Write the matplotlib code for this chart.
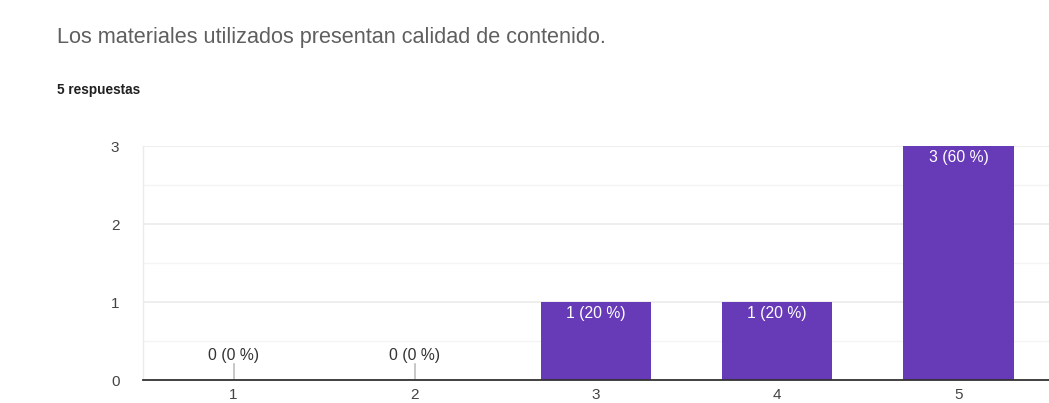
import matplotlib.pyplot as plt
from matplotlib.ticker import MultipleLocator

plt.rcParams['font.family'] = ['Liberation Sans', 'DejaVu Sans']

categories = ['1', '2', '3', '4', '5']
counts = [0, 0, 1, 1, 3]
total = 5
title = 'Los materiales utilizados presentan calidad de contenido.'
subtitle = '5 respuestas'

purple = '#673ab7'

fig = plt.figure(figsize=(10.49, 4.03), dpi=100)
ax = fig.add_axes([143 / 1049, (403 - 380) / 403, (1049 - 143) / 1049, 234 / 403])

x = list(range(1, len(categories) + 1))
bars = ax.bar(x, counts, width=0.61, color=purple, zorder=3)

for xi, c in zip(x, counts):
    label = f'{c} ({round(c / total * 100)} %)'
    if c > 0:
        ax.text(xi, c - 0.05, label, ha='center', va='top', color='white',
                fontsize=11.3, zorder=4)
    else:
        ax.plot([xi, xi], [0, 0.2], color='#bdbdbd', lw=1.2, zorder=4)
        ax.text(xi, 0.22, label, ha='center', va='bottom', color='#333333',
                fontsize=11.3, zorder=4)

ax.set_xlim(0.5, 5.5)
ax.set_ylim(0, 3)
ax.set_xticks(x)
ax.set_xticklabels(categories)
ax.yaxis.set_major_locator(MultipleLocator(1))
ax.yaxis.set_minor_locator(MultipleLocator(0.5))
ax.grid(axis='y', which='major', color='#ebebeb', lw=1.2, zorder=0)
ax.grid(axis='y', which='minor', color='#f4f4f4', lw=1.0, zorder=0)
ax.tick_params(axis='both', which='both', length=0, labelsize=11,
               labelcolor='#444444')
ax.tick_params(axis='x', pad=5.5)
ax.tick_params(axis='y', pad=17)
for s in ['top', 'right']:
    ax.spines[s].set_visible(False)
ax.spines['left'].set_color('#ebebeb')
ax.spines['left'].set_linewidth(1.0)
ax.spines['bottom'].set_color('#333333')
ax.spines['bottom'].set_linewidth(1.3)
ax.spines['bottom'].set_zorder(5)

fig.text(57 / 1049, 1 - 37 / 403, title, ha='left', va='center',
         fontsize=15.6, color='#5f5f5f')
fig.text(57 / 1049, 1 - 90 / 403, subtitle, ha='left', va='center',
         fontsize=9.8, color='#212121', fontweight='bold')

fig.savefig('out.png', dpi=100, facecolor='white')
